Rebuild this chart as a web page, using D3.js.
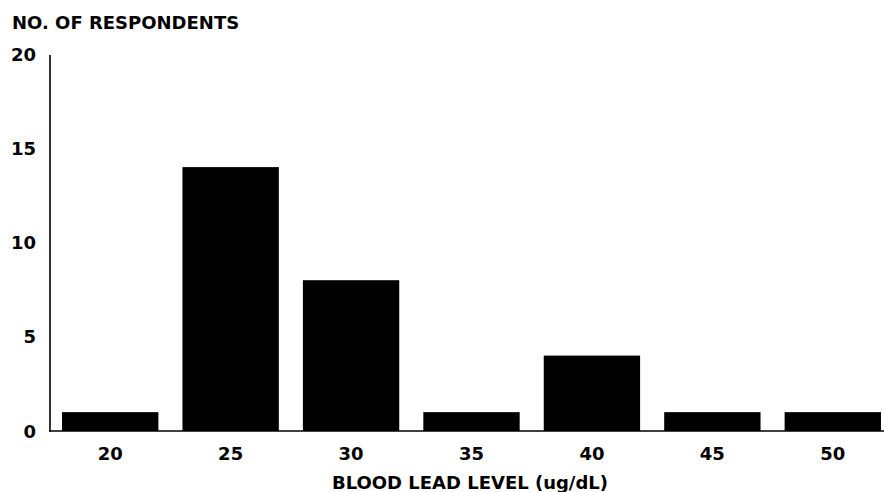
<!DOCTYPE html>
<html><head><meta charset="utf-8">
<script src="https://cdn.jsdelivr.net/npm/d3@7"></script>
<style>body{margin:0;background:#fff}text{font-family:"DejaVu Sans",sans-serif;font-weight:bold;fill:#000}</style>
</head><body><svg id="c" width="884" height="492"></svg>
<script>
const categories = ["20","25","30","35","40","45","50"];
const values = [1,14,8,1,4,1,1];
const yTicks = [0,5,10,15,20];
const yTitle = "NO. OF RESPONDENTS";
const xTitle = "BLOOD LEAD LEVEL (ug/dL)";

const svg = d3.select("#c");
const x = d3.scaleBand().domain(categories).range([50,893]).paddingInner(0.2).paddingOuter(0.1);
const y = d3.scaleLinear().domain([0,20]).range([431,54]);

svg.selectAll("rect.bar").data(values).join("rect").attr("class","bar")
  .attr("x",(d,i)=>x(categories[i])).attr("width",x.bandwidth())
  .attr("y",d=>y(d)).attr("height",d=>y(0)-y(d)).attr("fill","#000");

svg.append("line").attr("x1",50).attr("x2",50).attr("y1",55).attr("y2",y(0)+0.5).attr("stroke","#000").attr("stroke-width",1.6);
svg.append("line").attr("x1",49).attr("x2",884).attr("y1",y(0)).attr("y2",y(0)).attr("stroke","#000").attr("stroke-width",1.6);

svg.selectAll("text.yt").data(yTicks).join("text").attr("class","yt")
  .attr("x",36).attr("y",d=>y(d)+6.5).attr("text-anchor","end")
  .attr("font-size",18).text(d=>d);
svg.selectAll("text.xt").data(categories).join("text").attr("class","xt")
  .attr("x",d=>x(d)+x.bandwidth()/2).attr("y",459.5).attr("text-anchor","middle")
  .attr("font-size",18).text(d=>d);
svg.append("text").attr("x",12).attr("y",28.5).attr("font-size",18).text(yTitle);
svg.append("text").attr("x",470).attr("y",489).attr("text-anchor","middle").attr("font-size",18).text(xTitle);
</script></body></html>
